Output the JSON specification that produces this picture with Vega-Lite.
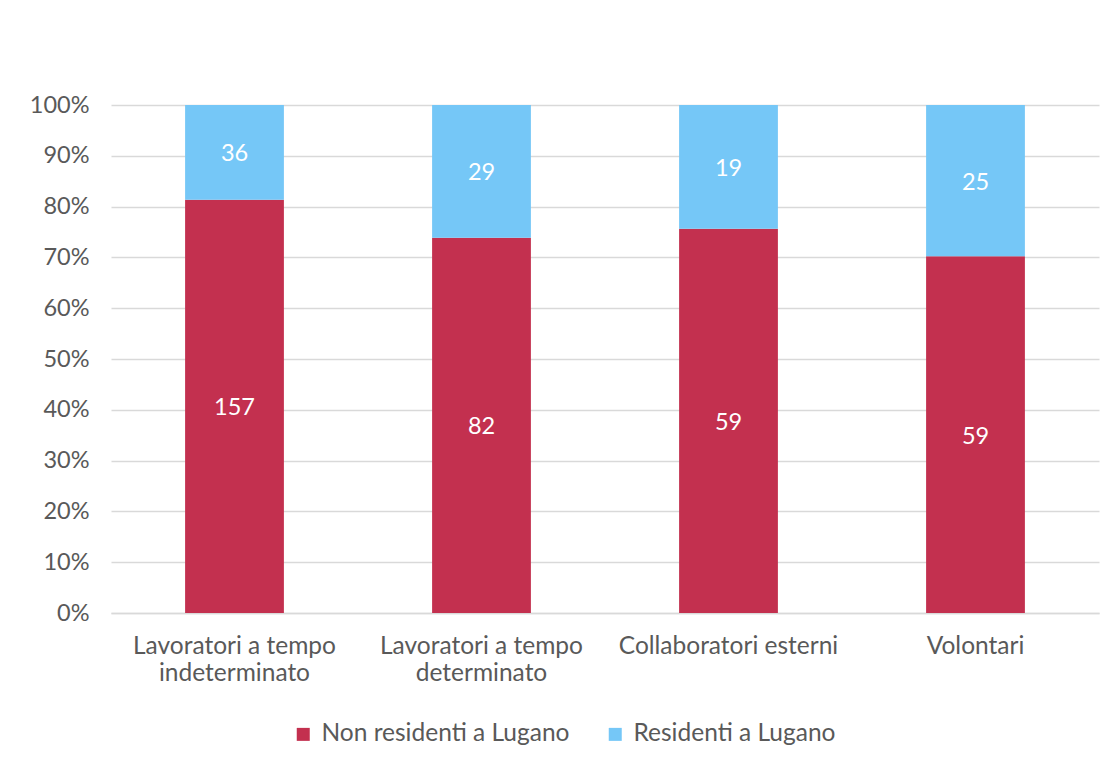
{
  "$schema": "https://vega.github.io/schema/vega-lite/v6.json",
  "width": 988,
  "height": 508,
  "autosize": {"type": "none"},
  "padding": {"left": 111, "top": 105, "right": 2, "bottom": 150},
  "background": "white",
  "config": {
    "font": "Lato",
    "view": {"stroke": null},
    "axis": {"labelFont": "Lato", "labelColor": "#595959", "labelFontSize": 23.5, "labelLimit": 400, "ticks": false, "gridColor": "#d9d9d9", "gridWidth": 1.5, "title": null},
    "legend": {"labelFont": "Lato", "labelColor": "#595959", "labelFontSize": 24.5, "labelLimit": 500}
  },
  "data": {
    "values": [
      {"categoria": "Lavoratori a tempo indeterminato", "gruppo": "Non residenti a Lugano", "n": 157},
      {"categoria": "Lavoratori a tempo indeterminato", "gruppo": "Residenti a Lugano", "n": 36},
      {"categoria": "Lavoratori a tempo determinato", "gruppo": "Non residenti a Lugano", "n": 82},
      {"categoria": "Lavoratori a tempo determinato", "gruppo": "Residenti a Lugano", "n": 29},
      {"categoria": "Collaboratori esterni", "gruppo": "Non residenti a Lugano", "n": 59},
      {"categoria": "Collaboratori esterni", "gruppo": "Residenti a Lugano", "n": 19},
      {"categoria": "Volontari", "gruppo": "Non residenti a Lugano", "n": 59},
      {"categoria": "Volontari", "gruppo": "Residenti a Lugano", "n": 25}
    ]
  },
  "transform": [
    {"stack": "n", "groupby": ["categoria"], "sort": [{"field": "gruppo", "order": "ascending"}], "offset": "normalize", "as": ["y0", "y1"]},
    {"calculate": "(datum.y0 + datum.y1) / 2", "as": "ymid"}
  ],
  "encoding": {
    "x": {
      "field": "categoria",
      "type": "nominal",
      "sort": null,
      "scale": {"paddingInner": 0.6, "paddingOuter": 0.3},
      "axis": {
        "labelAngle": 0,
        "labelPadding": 21,
        "labelLineHeight": 27,
        "labelFontSize": 24.5,
        "domainColor": "#d9d9d9",
        "domainWidth": 1.5,
        "labelExpr": "indexof(datum.label, 'tempo ') > 0 ? [substring(datum.label, 0, 18), substring(datum.label, 19)] : datum.label"
      }
    }
  },
  "layer": [
    {
      "mark": {"type": "bar"},
      "encoding": {
        "y": {"field": "y0", "type": "quantitative", "scale": {"domain": [0, 1]},
          "axis": {"format": ".0%", "values": [0, 0.1, 0.2, 0.3, 0.4, 0.5, 0.6, 0.7, 0.8, 0.9, 1], "domain": false, "labelPadding": 22}},
        "y2": {"field": "y1"},
        "color": {
          "field": "gruppo",
          "type": "nominal",
          "scale": {"domain": ["Non residenti a Lugano", "Residenti a Lugano"], "range": ["#C3304F", "#75C7F7"]},
          "legend": {"title": null, "orient": "none", "direction": "horizontal", "legendX": 180, "legendY": 617, "symbolType": "square", "symbolSize": 169, "symbolStrokeWidth": 0, "symbolOpacity": 1, "columnPadding": 33, "labelOffset": 6}
        }
      }
    },
    {
      "mark": {"type": "text", "color": "white", "fontSize": 23.5, "font": "Lato", "baseline": "middle", "dy": 2},
      "encoding": {
        "y": {"field": "ymid", "type": "quantitative"},
        "text": {"field": "n", "type": "quantitative"}
      }
    }
  ]
}
